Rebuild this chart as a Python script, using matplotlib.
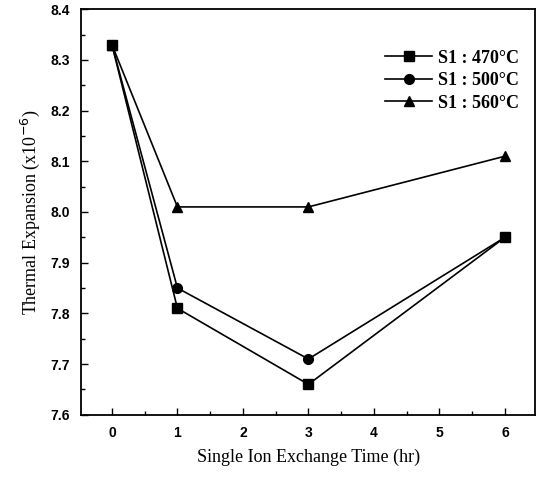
import matplotlib
matplotlib.use('Agg')
import matplotlib.pyplot as plt
from matplotlib.ticker import MultipleLocator

# exchange time (hr)
hours = [0, 1, 3, 6]

# thermal expansion (x10^-6) for each treatment temperature
s1_470 = [8.33, 7.81, 7.66, 7.95]
s1_500 = [8.33, 7.85, 7.71, 7.95]
s1_560 = [8.33, 8.01, 8.01, 8.11]

labels = ['S1 : 470°C', 'S1 : 500°C', 'S1 : 560°C']
markers = ['s', 'o', '^']

fig = plt.figure(figsize=(5.41, 4.84), dpi=100)
ax = fig.add_axes([0.150, 0.143, 0.839, 0.838])

for series, lab, mk in zip([s1_470, s1_500, s1_560], labels, markers):
    ax.plot(hours, series, color='black', lw=1.2, marker=mk, ms=7, label=lab)

ax.set_xlim(-0.47, 6.46)
ax.set_ylim(7.6, 8.4)
ax.xaxis.set_major_locator(MultipleLocator(1))
ax.xaxis.set_minor_locator(MultipleLocator(0.5))
ax.yaxis.set_major_locator(MultipleLocator(0.1))
ax.yaxis.set_minor_locator(MultipleLocator(0.05))
ax.tick_params(which='both', direction='in', width=1)
ax.tick_params(which='major', length=5, labelsize=10, pad=8)
ax.tick_params(which='minor', length=3)
for lbl in ax.get_xticklabels() + ax.get_yticklabels():
    lbl.set_fontfamily('Liberation Sans')
    lbl.set_fontweight('bold')
for sp in ax.spines.values():
    sp.set_linewidth(1.3)

ax.set_xlabel('Single Ion Exchange Time (hr)', family='Liberation Serif', fontsize=13, labelpad=6)
ax.set_ylabel('Thermal Expansion (x10$^{-6}$)', family='Liberation Serif', fontsize=13, labelpad=6)

leg = ax.legend(loc='upper right', bbox_to_anchor=(1.0, 0.94), frameon=False,
                prop={'family': 'Liberation Serif', 'size': 13, 'weight': 'bold'},
                handlelength=2.6, labelspacing=0.3, handletextpad=0.3)

fig.savefig('out.png', dpi=100)
